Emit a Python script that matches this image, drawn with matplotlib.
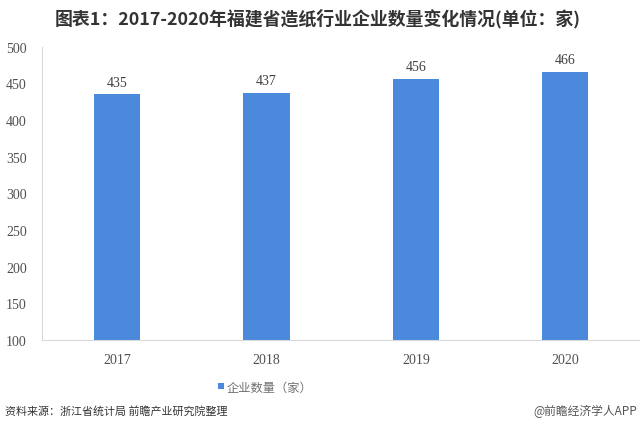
import matplotlib.pyplot as plt

plt.rcParams['font.family'] = ['Noto Sans CJK SC', 'DejaVu Sans']

# data
years = ['2017', '2018', '2019', '2020']
counts = [435, 437, 456, 466]
title = '图表1：2017-2020年福建省造纸行业企业数量变化情况(单位：家)'
series_name = '企业数量（家）'
source = '资料来源：浙江省统计局 前瞻产业研究院整理'

bar_color = '#4a89dc'
serif = ['Liberation Serif', 'DejaVu Serif']

fig = plt.figure(figsize=(6.4, 4.35), dpi=100)
ax = fig.add_axes([0.066, 0.216, 0.934, 0.674])

x = range(len(years))
bars = ax.bar(x, counts, width=0.31, color=bar_color, label=series_name, zorder=2)
for xi, v in zip(x, counts):
    ax.text(xi, v + 8, str(v), ha='center', va='bottom', fontsize=10,
            family=serif, color='#404040')

ax.set_xlim(-0.5, 3.5)
ax.set_ylim(100, 500)
ax.set_yticks(range(100, 501, 50))
ax.set_xticks(list(x))
ax.set_xticklabels(years)
for lab in ax.get_xticklabels() + ax.get_yticklabels():
    lab.set_family(serif)
    lab.set_fontsize(10)
    lab.set_color('#505050')
ax.tick_params(length=0)
ax.tick_params(axis='x', pad=9)
ax.tick_params(axis='y', pad=11)
for s in ['top', 'right']:
    ax.spines[s].set_visible(False)
for s in ['left', 'bottom']:
    ax.spines[s].set_color('#d9d9d9')
    ax.spines[s].set_linewidth(0.8)

fig.text(0.497, 0.958, title, ha='center', va='center', fontsize=12.9,
         fontweight='bold', color='#333333')

fig.legend(handles=[bars], labels=[series_name], loc='center',
           bbox_to_anchor=(0.415, 0.108), frameon=False, fontsize=8.8,
           handlelength=0.45, handleheight=0.45, handletextpad=0.25,
           labelcolor='#707070')

fig.text(0.008, 0.055, source, ha='left', va='center', fontsize=7.9, color='#333333')
fig.text(0.995, 0.055, '@前瞻经济学人APP', ha='right', va='center', fontsize=8.5,
         color='#555555')

fig.savefig('out.png', dpi=100, facecolor='white')
